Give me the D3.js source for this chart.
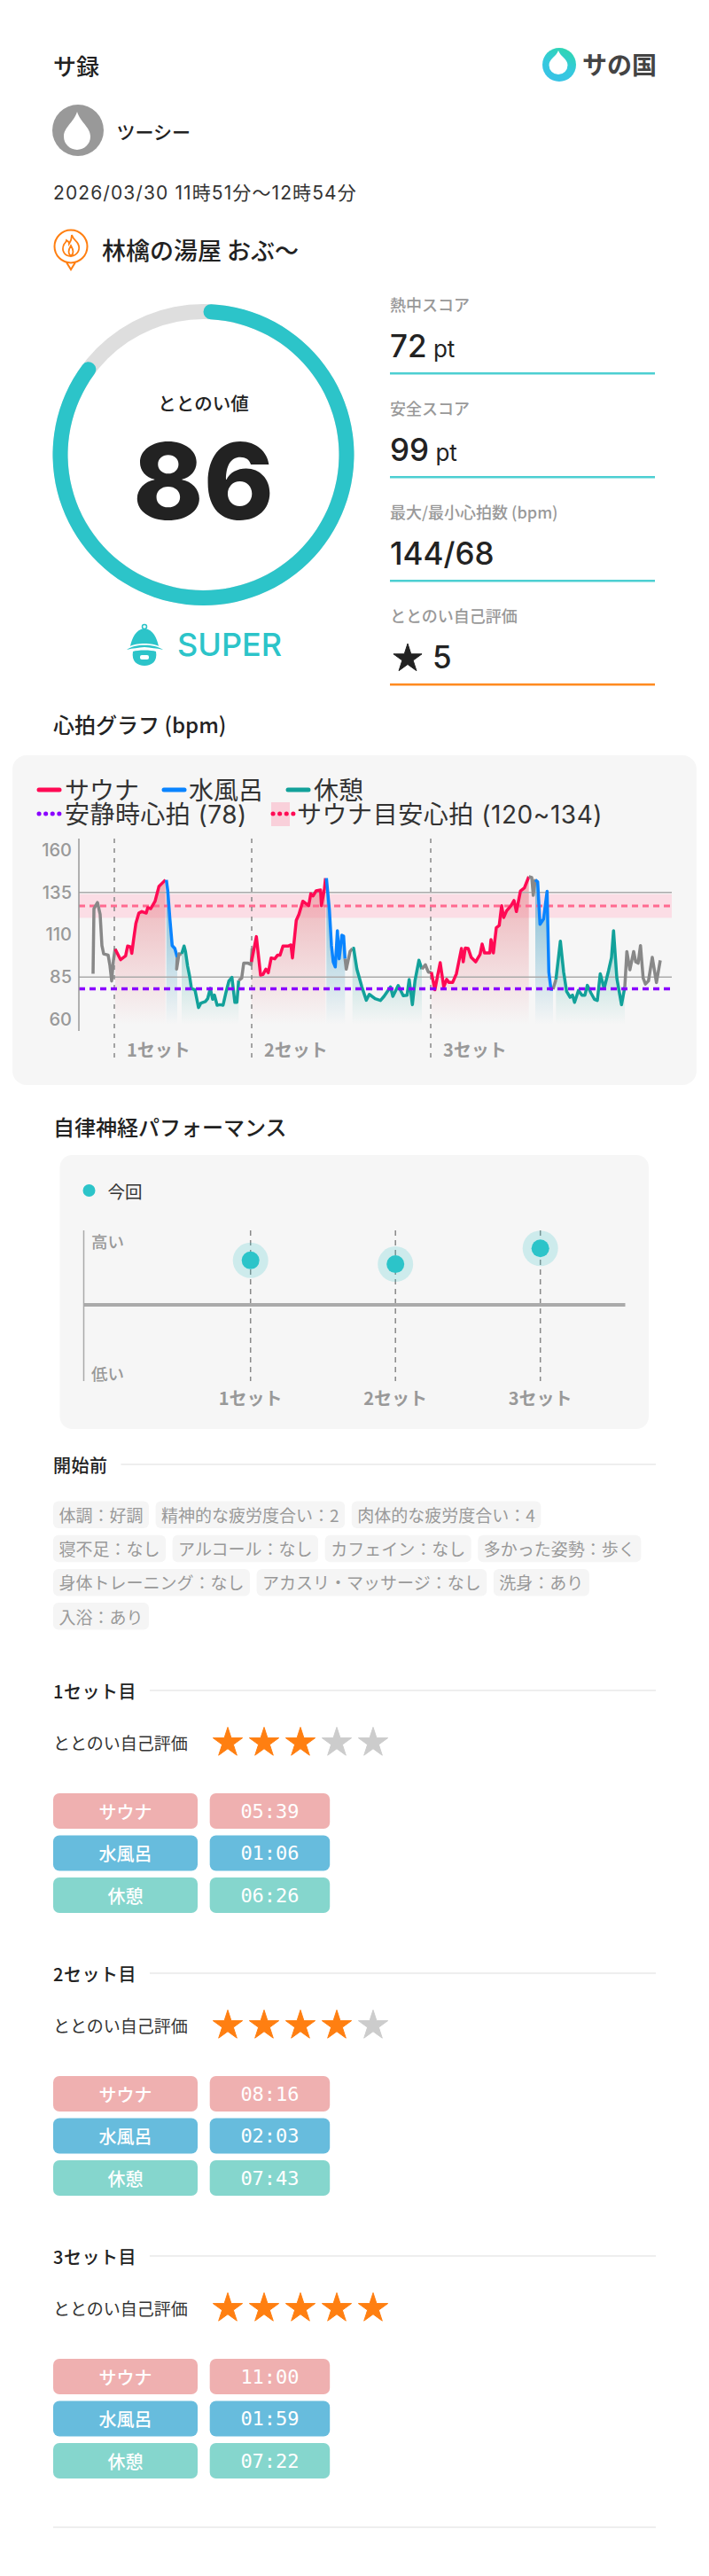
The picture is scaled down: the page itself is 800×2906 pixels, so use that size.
<!DOCTYPE html>
<html lang="ja">
<head>
<meta charset="utf-8">
<script src="https://cdn.jsdelivr.net/npm/d3@7"></script>
<style>
  html, body { margin: 0; padding: 0; background: #fff; }
  svg { display: block; }
</style>
</head>
<body>
<script>
// heart rate: [minutes from start, bpm]
const preHr = [[0,87],[0.1,125.4],[0.5,129],[0.8,122],[1,103.6],[1.2,98.7],[1.7,98],[1.9,92],[2.1,82.7],[2.3,95],[2.5,102]];
const sauna1Hr = [[2.5,101.5],[3.1,95.3],[3.43,96.6],[3.67,97.5],[3.9,103.3],[4.23,102.8],[4.37,99],[4.57,107],[4.83,116.7],[5.17,122.8],[5.5,123.7],[6,122.8],[6.17,126],[6.5,125.4],[7,129.8],[7.43,138.5],[7.77,140.3],[8.17,142.4]];
const cold1Hr = [[8.27,142.4],[8.43,135.9],[8.67,119.3],[8.93,103.6],[9.23,101.9],[9.5,96.6]];
const gap1Hr = [[9.5,96.6],[9.43,89.7],[9.7,98.7],[10,98.4]];
const rest1Hr = [[10,98.7],[10.27,103.3],[10.43,100.1],[10.67,91.4],[10.9,85.3],[11.1,78.3],[11.5,77.5],[11.9,67],[12.17,69.6],[12.67,70.5],[12.93,72.2],[13.23,78.3],[13.5,71.9],[13.7,74.3],[14,68.4],[14.33,68.7],[14.67,68.4],[15,76],[15.33,82.7],[15.67,84.8],[16,70.1],[16.23,70.1],[16.43,83]];
const gap2Hr = [[16.43,83],[16.77,84.4],[17,93.2],[17.5,93.2],[17.83,92.3],[17.95,102]];
const sauna2Hr = [[17.87,94],[18.43,108.9],[18.9,86.2],[19.17,86.5],[19.5,89.7],[19.77,87.6],[20.1,96.3],[20.5,95.8],[20.83,98],[21.1,98],[21.43,103.3],[22,103.3],[22.33,104],[22.5,96.3],[22.93,118.5],[23.23,122],[23.67,129.8],[24.33,127.2],[24.57,134.2],[24.83,133],[25.17,135.9],[25.67,136.4],[25.77,127.2],[26.1,136.8],[26.23,143.4]];
const cold2Hr = [[26.33,143.4],[26.67,124.6],[26.9,103.6],[27.1,94],[27.33,91],[27.57,112.4],[27.77,95.8],[28.07,109.7],[28.27,109.2],[28.43,95.8]];
const gap3Hr = [[28.43,95.8],[28.57,89.7],[29,100.1],[29.27,101.9]];
const rest2Hr = [[29.27,101.9],[29.4,102],[29.77,89.7],[30.33,79.2],[30.83,71.3],[31.17,74.8],[31.83,72.2],[32.43,71.2],[32.83,73.6],[33.57,79.2],[33.83,73.6],[34.43,80],[35,74],[35.43,74.3],[35.67,83.6],[36.03,68.7],[36.33,83],[36.77,94.9],[37.1,89.7]];
const gap4Hr = [[37.1,89.7],[37.5,92.3],[37.83,87.9],[38.17,87.9]];
const sauna3Hr = [[38.17,87.9],[38.57,77.5],[38.77,83],[39.17,93.5],[39.57,79.2],[39.9,83.6],[40.17,81.8],[40.57,81.8],[41,87],[41.57,101.9],[41.77,94],[42,102.2],[42.33,101.9],[42.67,96.6],[43.17,94],[43.67,98.4],[43.9,104.5],[44.17,99.3],[44.77,99.3],[44.9,107.1],[45.17,99.3],[45.5,114.1],[45.83,115.5],[46.1,127.2],[46.33,120.2],[46.67,124.2],[47.17,127.2],[47.5,130.2],[47.77,123.7],[48.23,135.9],[48.67,137.7],[49.17,144.3]];
const gap5Hr = [[49.17,144.3],[49.5,143.8],[49.67,133.3],[49.9,142.9]];
const cold3Hr = [[49.9,142.4],[50.17,141.2],[50.43,116.2],[50.83,119.3],[51.23,135.6],[51.43,87.9],[51.67,77.8],[51.9,77.8]];
const gap6Hr = [[51.9,77.8],[52.23,83.6]];
const rest3Hr = [[52.23,83.6],[52.73,106.2],[53.1,87.9],[53.43,76.6],[53.83,73.1],[54.1,74.3],[54.33,70.1],[54.77,77.1],[55.17,74.3],[55.5,74.3],[55.77,80.1],[56.17,75.7],[56.57,71.9],[56.9,71.2],[57.23,87],[57.67,78.3],[58.17,88.8],[58.5,96.6],[58.73,112.4],[59.1,84.4],[59.63,68.7],[60,79.2]];
const postHr = [[60,79.2],[60.23,100.1],[60.57,89.3],[61,100.1],[61.23,94],[61.5,93.2],[61.77,103.6],[62.07,84.4],[62.33,80.9],[62.67,82.7],[63.1,96.6],[63.57,81.8],[64,94.9]];

const hrTicks = [60, 85, 110, 135, 160];
const hrGuides = [85, 135];
const restingHr = 78;
const targetHr = [120, 134];
const setStarts = [2.4, 17.9, 38.1];
const setNames = ["1セット", "2セット", "3セット"];
const anLevels = [59, 54, 75];

const scores = [
  ["熱中スコア", "72", " pt"],
  ["安全スコア", "99", " pt"],
  ["最大/最小心拍数 (bpm)", "144/68", ""]
];
const chips = ["体調：好調", "精神的な疲労度合い：2", "肉体的な疲労度合い：4", "寝不足：なし", "アルコール：なし", "カフェイン：なし", "多かった姿勢：歩く", "身体トレーニング：なし", "アカスリ・マッサージ：なし", "洗身：あり", "入浴：あり"];
const setTitles = ["1セット目", "2セット目", "3セット目"];
const setRatings = [3, 4, 5];
const stepNames = ["サウナ", "水風呂", "休憩"];
const stepTimes = [
  ["05:39", "01:06", "06:26"],
  ["08:16", "02:03", "07:43"],
  ["11:00", "01:59", "07:22"]
];

const JP = '"Noto Sans CJK JP", "Noto Sans", sans-serif';
const LATIN = 'Inter, "Noto Sans CJK JP", sans-serif';
const TEAL = "#2cc4c9", ORANGE = "#ff7f11", INK = "#222", GREY = "#999";
const RED = "#ff0a54", BLUE = "#0a84ff", GREEN = "#12a19a", LINEGREY = "#888";

let width = 800, height = 2906;

let svg = d3.select("body").append("svg")
  .attr("width", width)
  .attr("height", height)
  .attr("viewBox", `0 0 ${width} ${height}`);

let defs = svg.append("defs");

function text(parent, x, y, str, size, color, opts = {}) {
  return parent.append("text")
    .attr("x", x).attr("y", y)
    .attr("dominant-baseline", opts.baseline || "central")
    .attr("text-anchor", opts.anchor || "start")
    .attr("font-family", opts.family || JP)
    .attr("font-size", size)
    .attr("font-weight", opts.weight || 400)
    .attr("letter-spacing", opts.spacing || null)
    .attr("fill", color)
    .text(str);
}

// drop shape, centred on x with the tip at y
function dropPath(x, y, w, h) {
  let r = w / 2, cy = y + h - r;
  return `M${x},${y} C${x + r * 0.25},${y + h * 0.28} ${x + r},${cy - r * 0.7} ${x + r},${cy}` +
    ` A${r},${r} 0 1 1 ${x - r},${cy} C${x - r},${cy - r * 0.7} ${x - r * 0.25},${y + h * 0.28} ${x},${y}Z`;
}

/* ---------- header ---------- */
text(svg, 60, 73, "サ録", 26, INK, { weight: 500 });

let logoGrad = defs.append("linearGradient").attr("id", "logoGrad")
  .attr("x1", 0.7).attr("y1", 0).attr("x2", 0.3).attr("y2", 1);
logoGrad.append("stop").attr("offset", 0).attr("stop-color", "#2ed6b0");
logoGrad.append("stop").attr("offset", 0.55).attr("stop-color", "#35c9de");
logoGrad.append("stop").attr("offset", 1).attr("stop-color", "#38c2e6");
svg.append("circle").attr("cx", 631).attr("cy", 73).attr("r", 19).attr("fill", "url(#logoGrad)");
svg.append("path").attr("d", dropPath(630, 57, 21, 27)).attr("fill", "#fff");
text(svg, 657, 72, "サの国", 28, "#444", { weight: 700 });

svg.append("circle").attr("cx", 88).attr("cy", 147).attr("r", 29).attr("fill", GREY);
svg.append("path").attr("d", dropPath(87, 126, 30, 43)).attr("fill", "#fff");
text(svg, 131.5, 148, "ツーシー", 21, INK, { weight: 500 });

text(svg, 60, 217, "2026/03/30 11時51分～12時54分", 21, "#333", { family: LATIN, spacing: 1.1 });

// place pin
svg.append("circle").attr("cx", 80).attr("cy", 278).attr("r", 18.5)
  .attr("fill", "none").attr("stroke", ORANGE).attr("stroke-width", 2);
svg.append("path").attr("d", "M75,296 L80,304 L85,296")
  .attr("fill", "none").attr("stroke", ORANGE).attr("stroke-width", 2);
svg.append("path")
  .attr("d", "M81,265 C83,271 86,271 88,275 C91,281 88,288 80,289 C73,289 69,283 72,276 C73,274 75,273 75,271 C77,272 78,273 78,275 C80,272 81,269 81,265Z M80,289 C76,286 77,282 80,277 C83,282 84,286 80,289Z")
  .attr("fill", "none").attr("stroke", ORANGE).attr("stroke-width", 1.8);
text(svg, 115, 281, "林檎の湯屋 おぶ〜", 27, INK, { weight: 500 });

/* ---------- score ring ---------- */
const ringValue = 86;
let ring = svg.append("g").attr("transform", "translate(229.5,513)");
let arc = d3.arc().innerRadius(153).outerRadius(170);
ring.append("path").attr("d", arc({ startAngle: 0, endAngle: 2 * Math.PI })).attr("fill", "#dedede");
ring.append("path")
  .attr("d", arc.cornerRadius(8.5)({ startAngle: 0, endAngle: 2 * Math.PI * ringValue / 100 }))
  .attr("fill", TEAL);
text(ring, 0, -59, "ととのい値", 20.5, INK, { anchor: "middle", weight: 500 });
text(ring, 0, 29, String(ringValue), 120, INK, { anchor: "middle", family: LATIN, weight: 800 });

// bell mascot
let bell = svg.append("g").attr("fill", TEAL);
bell.append("circle").attr("cx", 163).attr("cy", 707).attr("r", 2.5)
  .attr("fill", "none").attr("stroke", TEAL).attr("stroke-width", 1.5);
bell.append("path").attr("d", "M163,709 C153,710 149,720 147,729 C153,725 173,725 179,729 C177,720 173,710 163,709Z");
bell.append("path").attr("d", "M143,733 C152,726 174,726 184,733 C176,731 170,731 163,730 C156,731 150,731 143,733Z");
bell.append("path").attr("d", "M150,735 C155,733 171,733 176,735 C178,746 171,751 163,751 C155,751 148,746 150,735Z");
bell.append("rect").attr("x", 158).attr("y", 739).attr("width", 10).attr("height", 5).attr("rx", 2).attr("fill", "#fff");
text(svg, 200, 727, "SUPER", 36, TEAL, { family: LATIN, weight: 500 });

/* ---------- score column ---------- */
const rowTops = [343, 460, 577];
scores.forEach((d, i) => {
  let top = rowTops[i];
  text(svg, 440, top, d[0], 18, GREY, { weight: 500 });
  let v = text(svg, 440, top + 60, d[1], 35, INK, { family: LATIN, weight: 500, baseline: "alphabetic" });
  if (d[2]) v.append("tspan").attr("font-size", 26).attr("font-weight", 400).text(d[2]);
  svg.append("rect").attr("x", 440).attr("y", top + 77).attr("width", 299).attr("height", 2.5).attr("fill", "#4ccfd2");
});
text(svg, 440, 694, "ととのい自己評価", 18, GREY, { weight: 500 });
svg.append("path").attr("transform", "translate(460,743)")
  .attr("d", d3.symbol().type(d3.symbolStar).size(320)())
  .attr("fill", INK).attr("stroke", INK).attr("stroke-width", 1).attr("stroke-linejoin", "round");
text(svg, 488, 754, "5", 35, INK, { family: LATIN, weight: 500, baseline: "alphabetic" });
svg.append("rect").attr("x", 440).attr("y", 771).attr("width", 299).attr("height", 2.5).attr("fill", "#ff8a1f");

/* ---------- heart rate chart ---------- */
text(svg, 60, 816, "心拍グラフ (bpm)", 24, INK, { weight: 500 });
svg.append("rect").attr("x", 14).attr("y", 852).attr("width", 772).attr("height", 372).attr("rx", 16).attr("fill", "#f6f6f6");

let legend = svg.append("g");
function legendLine(x, y, color, dash) {
  legend.append("line").attr("x1", x).attr("x2", x + 23).attr("y1", y).attr("y2", y)
    .attr("stroke", color).attr("stroke-width", 5).attr("stroke-linecap", "round")
    .attr("stroke-dasharray", dash || null);
}
legendLine(44, 891, RED);
text(legend, 73, 892, "サウナ", 28, "#333", { family: LATIN });
legendLine(185, 891, BLUE);
text(legend, 213, 892, "水風呂", 28, "#333", { family: LATIN });
legendLine(325, 891, GREEN);
text(legend, 354, 892, "休憩", 28, "#333", { family: LATIN });
legendLine(44, 918, "#8a00ff", "0.1 7.5");
text(legend, 73, 919, "安静時心拍 (78)", 28, "#333", { family: LATIN, spacing: 0.45 });
legend.append("rect").attr("x", 306).attr("y", 905).attr("width", 21).attr("height", 27).attr("fill", "#f9d0da");
legendLine(308, 918, RED, "0.1 7.5");
text(legend, 335, 919, "サウナ目安心拍 (120~134)", 28, "#333", { family: LATIN, spacing: 0.55 });

let xHr = d3.scaleLinear().domain([0, 64]).range([105, 745]);
let yHr = d3.scaleLinear().domain([60, 160]).range([1150, 959]);
const plotLeft = 89, plotRight = 758;

let plot = svg.append("g");
plot.append("rect")
  .attr("x", plotLeft).attr("width", plotRight - plotLeft)
  .attr("y", yHr(targetHr[1])).attr("height", yHr(targetHr[0]) - yHr(targetHr[1]))
  .attr("fill", "#fbdde5");

function fade(id, color, top, opacity) {
  let g = defs.append("linearGradient").attr("id", id)
    .attr("gradientUnits", "userSpaceOnUse")
    .attr("x1", 0).attr("x2", 0).attr("y1", yHr(top)).attr("y2", yHr(57));
  g.append("stop").attr("offset", 0).attr("stop-color", color).attr("stop-opacity", opacity);
  g.append("stop").attr("offset", 1).attr("stop-color", color).attr("stop-opacity", 0);
}
fade("fadeRed", "#e88a92", 140, 0.62);
fade("fadeBlue", "#5aa9c8", 125, 0.62);
fade("fadeGreen", "#62bdb8", 100, 0.45);

const hrSeries = [
  { data: preHr, color: LINEGREY },
  { data: sauna1Hr, color: RED, fill: "fadeRed" },
  { data: cold1Hr, color: BLUE, fill: "fadeBlue" },
  { data: gap1Hr, color: LINEGREY },
  { data: rest1Hr, color: GREEN, fill: "fadeGreen" },
  { data: gap2Hr, color: LINEGREY },
  { data: sauna2Hr, color: RED, fill: "fadeRed" },
  { data: cold2Hr, color: BLUE, fill: "fadeBlue" },
  { data: gap3Hr, color: LINEGREY },
  { data: rest2Hr, color: GREEN, fill: "fadeGreen" },
  { data: gap4Hr, color: LINEGREY },
  { data: sauna3Hr, color: RED, fill: "fadeRed" },
  { data: gap5Hr, color: LINEGREY },
  { data: cold3Hr, color: BLUE, fill: "fadeBlue" },
  { data: gap6Hr, color: LINEGREY },
  { data: rest3Hr, color: GREEN, fill: "fadeGreen" },
  { data: postHr, color: LINEGREY }
];

let hrArea = d3.area().x(d => xHr(d[0])).y0(yHr(57)).y1(d => yHr(d[1]));
let hrLine = d3.line().x(d => xHr(d[0])).y(d => yHr(d[1]));

plot.selectAll("path.area").data(hrSeries.filter(d => d.fill)).enter().append("path")
  .attr("class", "area")
  .attr("d", d => hrArea(d.data))
  .attr("fill", d => `url(#${d.fill})`);

plot.selectAll("line.guide").data(hrGuides).enter().append("line")
  .attr("class", "guide")
  .attr("x1", plotLeft).attr("x2", plotRight)
  .attr("y1", d => yHr(d)).attr("y2", d => yHr(d))
  .attr("stroke", "#aaa").attr("stroke-width", 1.5);

plot.append("line")
  .attr("x1", plotLeft).attr("x2", plotRight)
  .attr("y1", yHr(d3.mean(targetHr))).attr("y2", yHr(d3.mean(targetHr)))
  .attr("stroke", "#ff6a90").attr("stroke-width", 3).attr("stroke-dasharray", "7 5");

plot.selectAll("line.set").data(setStarts).enter().append("line")
  .attr("class", "set")
  .attr("x1", d => xHr(d)).attr("x2", d => xHr(d))
  .attr("y1", 946).attr("y2", 1198)
  .attr("stroke", LINEGREY).attr("stroke-width", 1.5).attr("stroke-dasharray", "5 6");

plot.selectAll("path.hr").data(hrSeries).enter().append("path")
  .attr("class", "hr")
  .attr("d", d => hrLine(d.data))
  .attr("fill", "none")
  .attr("stroke", d => d.color)
  .attr("stroke-width", 3.5)
  .attr("stroke-linejoin", "round");

plot.append("line")
  .attr("x1", plotLeft).attr("x2", plotRight)
  .attr("y1", yHr(restingHr)).attr("y2", yHr(restingHr))
  .attr("stroke", "#8a00ff").attr("stroke-width", 3.5).attr("stroke-dasharray", "7 5");

let yAxis = plot.append("g")
  .attr("transform", `translate(${plotLeft},0)`)
  .call(d3.axisLeft(yHr).tickValues(hrTicks).tickSize(0).tickPadding(8));
yAxis.select(".domain").attr("d", "M0,946V1163").attr("stroke", GREY).attr("stroke-width", 1.5);
yAxis.selectAll("text")
  .attr("font-family", LATIN).attr("font-size", 20).attr("font-weight", 500).attr("fill", GREY);

setStarts.forEach((d, i) => {
  text(plot, xHr(d) + 14, 1183, setNames[i], 20, GREY, { weight: 700 });
});

/* ---------- autonomic performance ---------- */
text(svg, 60, 1270, "自律神経パフォーマンス", 24, INK, { weight: 500 });
svg.append("rect").attr("x", 67.5).attr("y", 1303).attr("width", 664.5).attr("height", 309).attr("rx", 14).attr("fill", "#f6f6f6");
svg.append("circle").attr("cx", 100.5).attr("cy", 1343).attr("r", 7).attr("fill", TEAL);
text(svg, 121.5, 1343, "今回", 19.5, "#333");

let xAn = d3.scalePoint().domain(setNames).range([282.7, 609.7]);
let yAn = d3.scaleLinear().domain([-100, 100]).range([1557, 1387]);

let an = svg.append("g");
an.append("line").attr("x1", 94.5).attr("x2", 94.5).attr("y1", 1388).attr("y2", 1558)
  .attr("stroke", "#aaa").attr("stroke-width", 1.5);
an.selectAll("line.set").data(setNames).enter().append("line")
  .attr("class", "set")
  .attr("x1", d => xAn(d)).attr("x2", d => xAn(d))
  .attr("y1", 1388).attr("y2", 1558)
  .attr("stroke", LINEGREY).attr("stroke-width", 1.5).attr("stroke-dasharray", "6 5");
an.append("line").attr("x1", 94.5).attr("x2", 705.5).attr("y1", yAn(0)).attr("y2", yAn(0))
  .attr("stroke", "#aaa").attr("stroke-width", 4);
an.selectAll("circle.halo").data(anLevels).enter().append("circle")
  .attr("class", "halo")
  .attr("cx", (d, i) => xAn(setNames[i])).attr("cy", d => yAn(d))
  .attr("r", 20).attr("fill", TEAL).attr("fill-opacity", 0.2);
an.selectAll("circle.dot").data(anLevels).enter().append("circle")
  .attr("class", "dot")
  .attr("cx", (d, i) => xAn(setNames[i])).attr("cy", d => yAn(d))
  .attr("r", 10).attr("fill", TEAL);
text(an, 103, 1400, "高い", 18.5, GREY, { weight: 500 });
text(an, 103, 1549, "低い", 18.5, GREY, { weight: 500 });
setNames.forEach(d => {
  text(an, xAn(d), 1576, d, 20, GREY, { anchor: "middle", weight: 700 });
});

/* ---------- before start ---------- */
function sectionTitle(y, str) {
  let t = text(svg, 60, y, str, 20, INK, { weight: 500, spacing: 0.5 });
  let w = t.node().getComputedTextLength();
  svg.append("line").attr("x1", 60 + w + 15).attr("x2", 740).attr("y1", y).attr("y2", y)
    .attr("stroke", "#eee").attr("stroke-width", 2);
}
sectionTitle(1652, "開始前");

let chipX = 60, chipY = 1693.5;
chips.forEach(d => {
  let g = svg.append("g");
  let rect = g.append("rect").attr("height", 30.5).attr("rx", 6).attr("fill", "#f5f5f5");
  let label = text(g, 0, 15, d, 19, GREY);
  let w = label.node().getComputedTextLength() + 13;
  if (chipX + w > 740) { chipX = 60; chipY += 38.2; }
  rect.attr("width", w);
  label.attr("x", 6.5);
  g.attr("transform", `translate(${chipX},${chipY})`);
  chipX += w + 7.6;
});

/* ---------- per set detail ---------- */
const setTops = [1907, 2226, 2545];
const stepColors = ["#efb0b0", "#67bcdd", "#85d6cd"];
let starPath = d3.symbol().type(d3.symbolStar).size(344)();
let xStar = d3.scalePoint().domain(d3.range(5)).range([257, 421]);

setTitles.forEach((title, s) => {
  let top = setTops[s];
  sectionTitle(top, title);
  text(svg, 60, top + 58, "ととのい自己評価", 19, "#333");
  svg.append("g").selectAll("path").data(d3.range(5)).enter().append("path")
    .attr("transform", d => `translate(${xStar(d)},${top + 59})`)
    .attr("d", starPath)
    .attr("fill", d => d < setRatings[s] ? ORANGE : "#ccc")
    .attr("stroke", d => d < setRatings[s] ? ORANGE : "#ccc")
    .attr("stroke-linejoin", "round");
  stepNames.forEach((name, i) => {
    let y = top + 116 + i * 47.5;
    svg.append("rect").attr("x", 60).attr("y", y).attr("width", 163).attr("height", 40).attr("rx", 7).attr("fill", stepColors[i]);
    svg.append("rect").attr("x", 236.7).attr("y", y).attr("width", 135.5).attr("height", 40).attr("rx", 7).attr("fill", stepColors[i]);
    text(svg, 141.5, y + 20, name, 20, "#fff", { anchor: "middle", weight: 500 });
    text(svg, 304.5, y + 20, stepTimes[s][i], 22, "#fff", { anchor: "middle", family: '"DejaVu Sans Mono", monospace' });
  });
});

svg.append("line").attr("x1", 60).attr("x2", 740).attr("y1", 2851).attr("y2", 2851)
  .attr("stroke", "#eee").attr("stroke-width", 2);
</script>
</body>
</html>
